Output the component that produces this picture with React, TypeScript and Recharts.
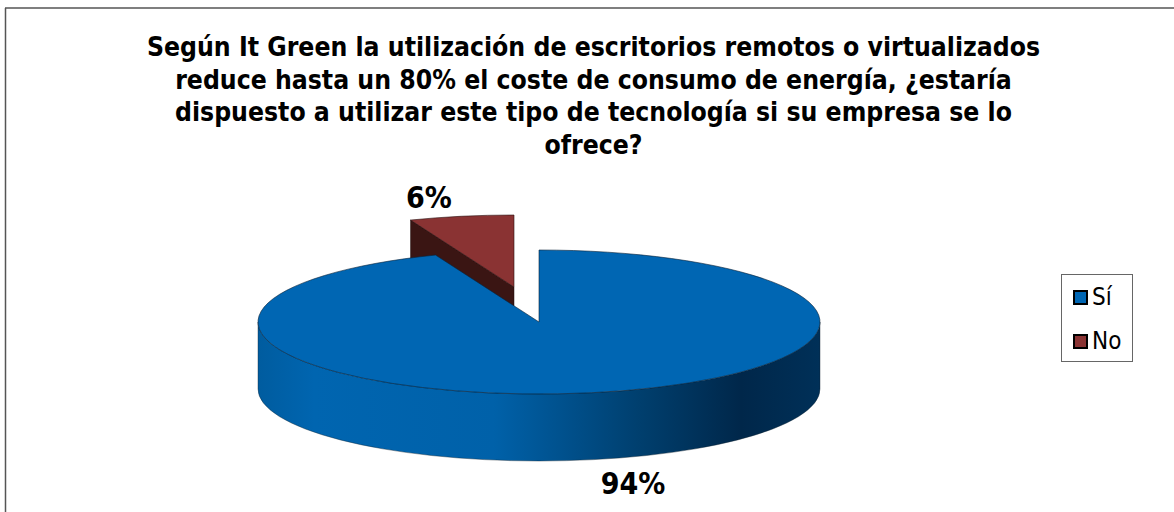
import { Legend, Pie, PieChart } from "recharts";

const categories = ["Sí", "No"];
const shares = [94, 6];
const sliceColors = ["#0066b3", "#8a3333"];
const titleLines = [
  "Según It Green la utilización de escritorios remotos o virtualizados",
  "reduce hasta un 80% el coste de consumo de energía, ¿estaría",
  "dispuesto a utilizar este tipo de tecnología si su empresa se lo",
  "ofrece?",
];

// drawn back to front so the big slice covers the exploded one
const tableData = categories
  .map((name, i) => ({ name, value: shares[i], fill: sliceColors[i] }))
  .reverse();

const FONT = "'DejaVu Sans Condensed', 'DejaVu Sans', sans-serif";
const SQUASH = 72 / 281;
const DEPTH = 67;
const EXPLODE = { x: -25, y: -35 };

function Slice(props: any) {
  const { cx, cy, outerRadius, startAngle, endAngle, fill, name } = props;
  const exploded = name === "No";
  const ox = exploded ? cx + EXPLODE.x : cx;
  const oy = exploded ? cy + EXPLODE.y : cy;
  const rx = outerRadius;
  const ry = outerRadius * SQUASH;
  const at = (deg: number) => {
    const a = (deg * Math.PI) / 180;
    return [ox + rx * Math.cos(a), oy - ry * Math.sin(a)];
  };
  const [sx, sy] = at(startAngle);
  const [ex, ey] = at(endAngle);
  const large = Math.abs(startAngle - endAngle) > 180 ? 1 : 0;
  const top = `M${ox},${oy} L${sx},${sy} A${rx},${ry} 0 ${large} 1 ${ex},${ey} Z`;

  if (exploded) {
    const wall = `M${sx},${sy} L${ox},${oy} L${ox},${oy + DEPTH} L${sx},${sy + DEPTH} Z`;
    return (
      <g>
        <path d={wall} fill="#3a1513" stroke="#1a0808" strokeWidth={0.5} />
        <path d={top} fill={fill} stroke="#2a1010" strokeWidth={0.6} />
      </g>
    );
  }

  const rim = `M${ox - rx},${oy} A${rx},${ry} 0 0 0 ${ox + rx},${oy} L${ox + rx},${oy + DEPTH} A${rx},${ry} 0 0 1 ${ox - rx},${oy + DEPTH} Z`;
  return (
    <g>
      <defs>
        <linearGradient id="rimShade" x1="0" y1="0" x2="1" y2="0">
          <stop offset="0" stopColor="#005c9f" />
          <stop offset="0.1" stopColor="#0065b0" />
          <stop offset="0.42" stopColor="#0061a9" />
          <stop offset="0.68" stopColor="#003f6e" />
          <stop offset="0.86" stopColor="#00274a" />
          <stop offset="1" stopColor="#003058" />
        </linearGradient>
      </defs>
      <path d={rim} fill="url(#rimShade)" stroke="#10202e" strokeWidth={0.4} />
      <path d={top} fill={fill} stroke="#0a2238" strokeWidth={0.6} />
    </g>
  );
}

function SliceLabel(props: any) {
  const { percent, name } = props;
  // label spots follow the pie centre given by the chart
  const x = props.cx + (name === "No" ? -110 : 94);
  const y = props.cy + (name === "No" ? -125 : 161);
  return (
    <text
      x={x}
      y={y}
      textAnchor="middle"
      dominantBaseline="central"
      fontFamily={FONT}
      fontWeight="bold"
      fontSize={30}
      fill="#000"
    >
      {`${Math.round(percent * 100)}%`}
    </text>
  );
}

function LegendBox({ payload }: any) {
  const rows = [...(payload ?? [])].reverse();
  return (
    <div
      style={{
        width: 72,
        height: 88,
        boxSizing: "border-box",
        border: "1px solid #666",
        background: "#fff",
      }}
    >
      {rows.map((entry: any) => (
        <div key={entry.value} style={{ display: "flex", alignItems: "center", height: 44, paddingLeft: 11 }}>
          <span
            style={{
              width: 11,
              height: 11,
              background: entry.color,
              border: "2px solid #000",
              marginRight: 4,
            }}
          />
          <span style={{ fontFamily: FONT, fontSize: 24, color: "#000" }}>{entry.value}</span>
        </div>
      ))}
    </div>
  );
}

export default function App() {
  return (
    <div style={{ position: "absolute", left: 0, top: 0, width: 1174, height: 512, background: "#fff" }}>
      <PieChart width={1174} height={512} margin={{ top: 0, right: 0, bottom: 0, left: 0 }}>
        <line x1={5} y1={8} x2={1174} y2={8} stroke="#555" strokeWidth={1.5} />
        <line x1={5.5} y1={8} x2={5.5} y2={512} stroke="#555" strokeWidth={1.5} />
        <text textAnchor="middle" fontFamily={FONT} fontWeight="bold" fontSize={26.3} fill="#000">
          {titleLines.map((line, i) => (
            <tspan key={line} x={593.5} y={56 + i * 32.7}>
              {line}
            </tspan>
          ))}
        </text>
        <Pie
          data={tableData}
          dataKey="value"
          nameKey="name"
          cx={539}
          cy={322}
          outerRadius={281}
          startAngle={111.6}
          endAngle={-248.4}
          shape={Slice}
          activeShape={Slice}
          inactiveShape={Slice}
          label={SliceLabel}
          labelLine={false}
          legendType="square"
          isAnimationActive={false}
        />
        <Legend
          content={<LegendBox />}
          layout="vertical"
          wrapperStyle={{ position: "absolute", left: 1061, top: 274, width: 72, height: 88 }}
        />
      </PieChart>
    </div>
  );
}
